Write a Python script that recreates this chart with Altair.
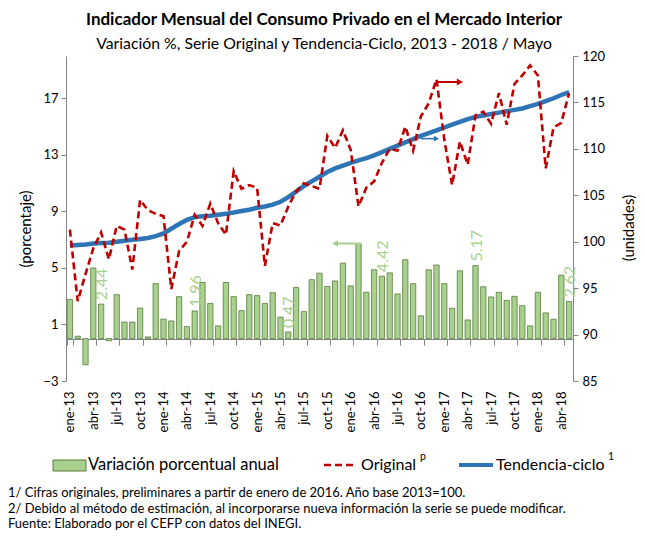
import altair as alt
import pandas as pd

# ---------------- data ----------------
meses_abbr = ["ene", "feb", "mar", "abr", "may", "jun", "jul", "ago", "sep", "oct", "nov", "dic"]
anios = ["13", "14", "15", "16", "17", "18"]
meses = [f"{m}-{a}" for a in anios for m in meses_abbr][:65]  # ene-13 ... may-18

variacion = [2.77, 0.17, -1.85, 5.00, 2.44, -0.15, 3.11, 1.17, 1.17, 2.16, 0.12, 3.89,
             1.38, 1.25, 2.97, 0.85, 1.96, 3.97, 2.49, 0.90, 3.97, 2.97, 1.98, 3.11,
             3.04, 2.49, 3.25, 1.52, 0.47, 3.62, 1.91, 4.17, 4.63, 3.69, 4.08, 5.34,
             3.73, 6.73, 3.28, 4.87, 4.42, 4.65, 3.16, 5.58, 3.89, 1.61, 4.87, 5.21,
             3.89, 2.15, 4.80, 1.32, 5.17, 3.67, 2.95, 3.28, 2.70, 2.99, 2.33, 0.90,
             3.28, 1.82, 1.37, 4.49, 2.62]

original = [101.3, 93.6, 96.5, 99.3, 101.0, 98.1, 101.7, 101.3, 97.0, 104.5, 103.4, 103.0,
            102.75, 94.9, 99.0, 100.0, 102.9, 101.7, 104.1, 102.0, 100.75, 107.6, 105.7, 106.1,
            105.8, 97.4, 102.0, 101.75, 103.8, 105.4, 106.3, 106.0, 105.7, 111.4, 110.1, 112.0,
            109.9, 103.8, 105.8, 106.5, 108.5, 110.0, 109.8, 112.4, 109.8, 113.5, 114.9, 117.5,
            111.0, 106.1, 110.8, 108.3, 113.6, 114.0, 112.7, 116.0, 112.6, 117.0, 117.9, 119.0,
            117.9, 107.9, 112.3, 112.8, 116.0]

tendencia = [99.6, 99.65, 99.7, 99.8, 99.85, 99.9, 100.0, 100.1, 100.2, 100.3, 100.4, 100.6,
             100.9, 101.4, 101.9, 102.35, 102.65, 102.75, 102.8, 102.9, 103.0, 103.15, 103.3, 103.45,
             103.65, 103.8, 104.0, 104.3, 104.8, 105.4, 106.0, 106.5, 107.0, 107.5, 107.9, 108.2,
             108.5, 108.75, 109.0, 109.3, 109.65, 110.0, 110.35, 110.7, 111.05, 111.4, 111.7, 112.0,
             112.3, 112.6, 112.9, 113.2, 113.45, 113.6, 113.75, 113.9, 114.05, 114.2, 114.35, 114.6,
             114.85, 115.15, 115.45, 115.8, 116.1]

titulo = "Indicador Mensual del Consumo Privado en el Mercado Interior"
subtitulo = "Variación %, Serie Original y Tendencia-Ciclo, 2013 - 2018 / Mayo"
notas = ["1/ Cifras originales, preliminares a partir de enero de 2016.  Año base 2013=100.",
         "2/ Debido al método de estimación, al incorporarse nueva información la serie se puede modificar.",
         "Fuente: Elaborado por el CEFP con datos del INEGI."]

df = pd.DataFrame({"mes": meses, "var": variacion, "orig": original, "tend": tendencia})

FONT = "Lato"
VERDE = "#a9d18e"
VERDE_OSC = "#5b7a3c"
ROJO = "#c00000"
AZUL = "#2e75b6"
GRIS = "#868686"

# ---------------- scales / axes ----------------
xscale = alt.Scale(domain=meses, paddingInner=0.32, paddingOuter=0.16)
xaxis = alt.Axis(values=meses[::3], labelAngle=-90, labelAlign="right", labelBaseline="middle",
                 tickBand="extent", offset=-42, tickSize=6, labelPadding=46,
                 tickColor=GRIS, domainColor=GRIS, labelFont=FONT, labelFontSize=13,
                 labelColor="black", grid=False, title=None)
xenc = alt.X("mes:N", sort=meses, scale=xscale, axis=xaxis)

lscale = alt.Scale(domain=[-3, 20], nice=False, zero=False)
laxis = alt.Axis(values=[-3, 1, 5, 9, 13, 17], orient="left", domainColor=GRIS, tickColor=GRIS,
                 tickSize=5, labelFont=FONT, labelFontSize=13, labelColor="black",
                 labelPadding=3, grid=False, title=None)
rscale = alt.Scale(domain=[85, 120], nice=False, zero=False)
raxis = alt.Axis(values=list(range(85, 121, 5)), orient="right", domainColor=GRIS, tickColor=GRIS,
                 tickSize=5, labelFont=FONT, labelFontSize=13, labelColor="black",
                 labelPadding=4, grid=False, title=None)

# ---------------- left (bars) layer ----------------
bars = alt.Chart(df).mark_bar(fill=VERDE, stroke=VERDE_OSC, strokeWidth=0.8).encode(
    x=xenc, y=alt.Y("var:Q", scale=lscale, axis=laxis))

etiquetas = alt.Chart(df).transform_filter("substring(datum.mes,0,3)=='may'").mark_text(
    angle=270, align="left", baseline="middle", dx=4, dy=1, fontSize=16, font=FONT, color=VERDE
).encode(x=xenc, y=alt.Y("var:Q", scale=lscale, axis=laxis), text=alt.Text("var:Q", format=".2f"))

flecha_v = pd.DataFrame({"mes": [meses[37]], "mes2": [meses[34]], "var": [variacion[37]]})
fv_line = alt.Chart(flecha_v).mark_rule(color=VERDE, strokeWidth=2, xOffset=2.5).encode(
    x=xenc, x2="mes2:N", y=alt.Y("var:Q", scale=lscale, axis=laxis))
fv_head = alt.Chart(flecha_v).mark_point(shape="triangle-left", filled=True, size=45, opacity=1,
                                         color=VERDE).encode(
    x=alt.X("mes2:N", sort=meses, scale=xscale, axis=xaxis), y=alt.Y("var:Q", scale=lscale, axis=laxis))

izq = alt.layer(bars, etiquetas, fv_line, fv_head)

# ---------------- right (lines) layer ----------------
linea_orig = alt.Chart(df).mark_line(color=ROJO, strokeWidth=2.6, strokeDash=[7, 4]).encode(
    x=xenc, y=alt.Y("orig:Q", scale=rscale, axis=raxis))
linea_tend = alt.Chart(df).mark_line(color=AZUL, strokeWidth=4.5).encode(
    x=xenc, y=alt.Y("tend:Q", scale=rscale, axis=raxis))

flechas = pd.DataFrame({"mes": [meses[47], meses[45]], "mes2": [meses[50], meses[47]],
                        "orig": [117.2, 111.1], "serie": ["o", "t"]})
fr = flechas[flechas.serie == "o"]
fb = flechas[flechas.serie == "t"]
fr_line = alt.Chart(fr).mark_rule(color=ROJO, strokeWidth=2).encode(
    x=xenc, x2="mes2:N", y=alt.Y("orig:Q", scale=rscale, axis=raxis))
fr_head = alt.Chart(fr).mark_point(shape="triangle-right", filled=True, size=50, opacity=1,
                                   color=ROJO).encode(
    x=alt.X("mes2:N", sort=meses, scale=xscale, axis=xaxis), y=alt.Y("orig:Q", scale=rscale, axis=raxis))
fb_line = alt.Chart(fb).mark_rule(color=AZUL, strokeWidth=1.6).encode(
    x=xenc, x2="mes2:N", y=alt.Y("orig:Q", scale=rscale, axis=raxis))
fb_head = alt.Chart(fb).mark_point(shape="triangle-right", filled=True, size=35, opacity=1,
                                   color=AZUL).encode(
    x=alt.X("mes2:N", sort=meses, scale=xscale, axis=xaxis), y=alt.Y("orig:Q", scale=rscale, axis=raxis))

der = alt.layer(linea_tend, linea_orig, fr_line, fr_head, fb_line, fb_head)


# ---------------- texts, legend ----------------
def texto(t, x, y, size, weight="normal", align="left", angle=0, color="black"):
    kw = dict(align=align, baseline="middle", fontSize=size, font=FONT, fontWeight=weight, color=color)
    if angle:
        kw["angle"] = angle
    return alt.Chart(pd.DataFrame({"t": [t]})).mark_text(**kw).encode(
        x=alt.value(x), y=alt.value(y), text="t:N")


textos = [
    texto(titulo, 258, -36, 17, weight="bold", align="center"),
    texto(subtitulo, 258, -12, 15.8, align="center"),
    texto("(porcentaje)", -40, 173, 15, align="center", angle=270),
    texto("(unidades)", 563, 172, 15, align="center", angle=270),
    texto("Variación porcentual anual", 22, 409, 16.5),
    texto("Original", 295, 409, 16),
    texto("p", 354, 401, 10.5),
    texto("Tendencia-ciclo", 430, 409, 16),
    texto("1", 542, 401, 10.5),
    texto(notas[0], -58, 437, 13),
    texto(notas[1], -58, 452.5, 13),
    texto(notas[2], -58, 468, 13),
]

uno = pd.DataFrame({"k": [1]})
ley_rect = alt.Chart(uno).mark_rect(fill=VERDE, stroke=VERDE_OSC, strokeWidth=1).encode(
    x=alt.value(-13), x2=alt.value(20), y=alt.value(404), y2=alt.value(415))
ley_rojo = alt.Chart(uno).mark_rule(color=ROJO, strokeWidth=2.6, strokeDash=[7, 4]).encode(
    x=alt.value(258), x2=alt.value(290), y=alt.value(409))
ley_azul = alt.Chart(uno).mark_rule(color=AZUL, strokeWidth=4).encode(
    x=alt.value(393), x2=alt.value(427), y=alt.value(409))

chart = alt.layer(izq, der, ley_rect, ley_rojo, ley_azul, *textos).resolve_scale(
    y="independent"
).properties(
    width=507, height=325,
    autosize=alt.AutoSizeParams(type="none"),
    padding={"left": 58, "top": 48, "right": 64, "bottom": 151},
).configure_view(stroke=None)

chart.save("out.html", embed_options={"renderer": "svg", "actions": False})
